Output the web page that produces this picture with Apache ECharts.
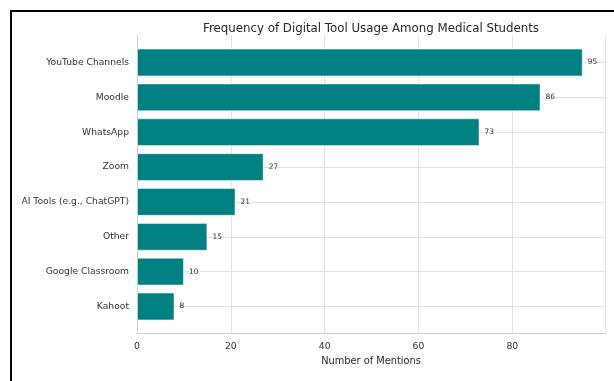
<!DOCTYPE html>
<html><head><meta charset="utf-8">
<script src="https://cdn.jsdelivr.net/npm/echarts@6/dist/echarts.min.js"></script>
<style>html,body{margin:0;padding:0;background:#fff}#c{width:614px;height:381px}</style>
</head><body><div id="c"></div>
<script>
const categories = ["YouTube Channels","Moodle","WhatsApp","Zoom","AI Tools (e.g., ChatGPT)","Other","Google Classroom","Kahoot"];
const mentions = [95,86,73,27,21,15,10,8];
const xTicks = [0,20,40,60,80];
const chart = echarts.init(document.getElementById('c'));
const font = '"DejaVu Sans", sans-serif';
const XMAX = 99.75;
chart.setOption({
  animation:false,
  backgroundColor:'#fff',
  title:{text:'Frequency of Digital Tool Usage Among Medical Students',left:366,textAlign:'center',top:18,
    textStyle:{fontFamily:font,fontSize:11.8,fontWeight:'normal',color:'#262626'}},
  grid:[
    {left:137,right:9,top:35,bottom:47.5,containLabel:false},
    {left:137,right:9,top:62.5,bottom:74.5,containLabel:false}
  ],
  xAxis:[
    {gridIndex:0,type:'value',min:0,max:XMAX,interval:20,
     name:'Number of Mentions',nameLocation:'middle',nameGap:18,
     nameTextStyle:{fontFamily:font,fontSize:9.8,color:'#262626'},
     axisLine:{show:true,lineStyle:{color:'#cccccc',width:1}},axisTick:{show:false},
     axisLabel:{fontFamily:font,fontSize:9.3,color:'#333',margin:9,
       formatter:v=>xTicks.includes(v)?String(v):''},
     splitLine:{show:true,lineStyle:{color:'#e3e3e3',width:1}}},
    {gridIndex:1,type:'value',min:0,max:XMAX,show:false,splitLine:{show:false}}
  ],
  yAxis:[
    {gridIndex:0,type:'value',min:0,max:1,
     axisLine:{show:true,lineStyle:{color:'#cccccc',width:1}},axisTick:{show:false},
     axisLabel:{show:false},splitLine:{show:false}},
    {gridIndex:1,type:'category',data:categories,inverse:true,boundaryGap:false,
     axisLine:{show:false},axisTick:{show:false},
     axisLabel:{fontFamily:font,fontSize:9.2,color:'#333',margin:8},
     splitLine:{show:true,lineStyle:{color:'#e3e3e3',width:1}}}
  ],
  series:[
    {type:'bar',xAxisIndex:1,yAxisIndex:1,data:mentions,barWidth:27.8,clip:false,
     itemStyle:{color:'#008080',borderColor:'rgba(255,255,255,0.5)',borderWidth:1},
     label:{show:true,position:'right',distance:5,fontFamily:font,fontSize:7.5,color:'#333'},z:3}
  ],
  graphic:[{type:'rect',shape:{x:11,y:11,width:800,height:600},style:{fill:null,stroke:'#000',lineWidth:2},z:100}]
});
</script></body></html>
